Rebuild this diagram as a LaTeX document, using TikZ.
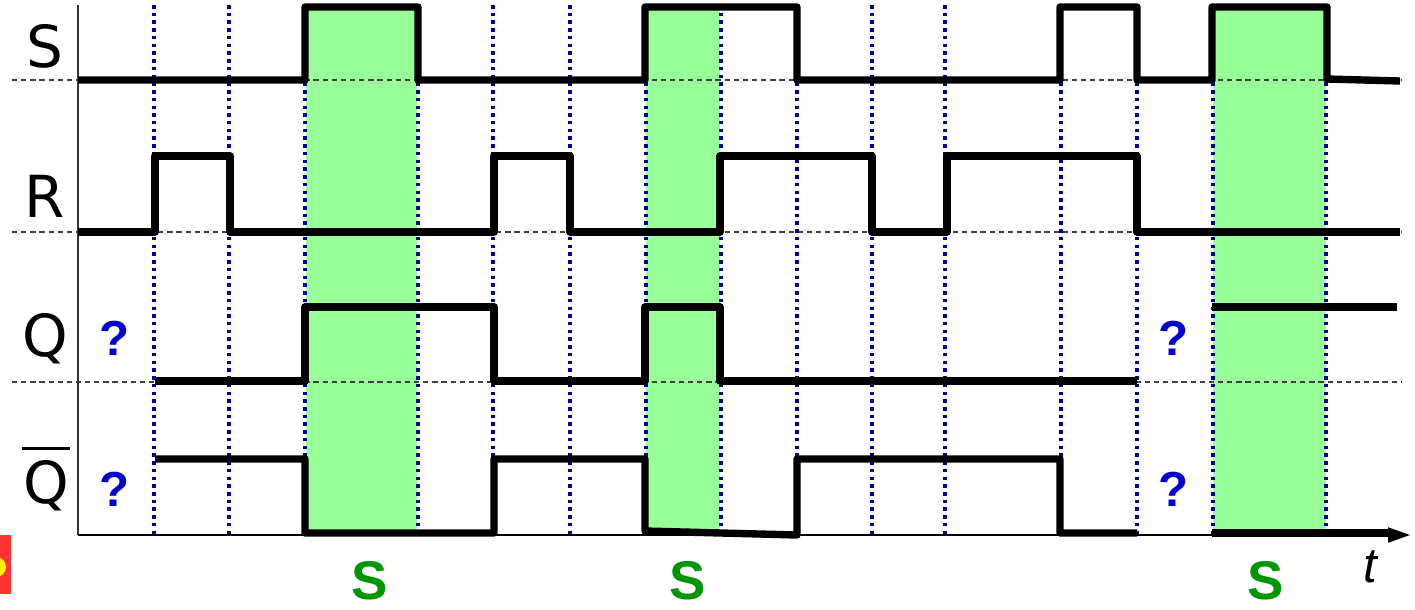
\documentclass[tikz,border=0pt]{standalone}
\usepackage{fontspec}
\setmainfont{DejaVu Sans}
\newfontfamily\boldfont{Liberation Sans}
\usetikzlibrary{arrows.meta}

\definecolor{zonegreen}{RGB}{153,255,153}
\definecolor{tickblue}{RGB}{0,0,150}
\definecolor{qblue}{RGB}{0,0,204}
\definecolor{sgreen}{RGB}{0,150,0}

\begin{document}
\begin{tikzpicture}[
    x=0.02cm, y=-0.02cm,
    sig/.style={line width=4.2pt, line join=round, line cap=butt},
    tick/.style={draw=tickblue, line width=2.3pt, dash pattern=on 2pt off 2.4pt},
    base/.style={draw=black!75, line width=0.6pt, dash pattern=on 3pt off 2.2pt},
    zone/.style={fill=zonegreen, draw=none},
    lbl/.style={font=\fontsize{33}{36}\selectfont, inner sep=0pt},
    unk/.style={font=\boldfont\bfseries\fontsize{28}{30}\selectfont, text=qblue, inner sep=0pt},
    tag/.style={font=\boldfont\bfseries\fontsize{31}{33}\selectfont, text=sgreen, inner sep=0pt}
]
    \useasboundingbox (0,0) rectangle (1415,609);

    % set phases
    \fill[zone] (306,7) rectangle (417,533);
    \fill[zone] (646,7) rectangle (720,533);
    \fill[zone] (1213,7) rectangle (1326,533);

    % baselines
    \draw[base] (12,80) -- (1402,80);
    \draw[base] (12,232) -- (1402,232);
    \draw[base] (12,382) -- (1402,382);

    % clock ticks
    \foreach \tx in {154,229,305,418,493,570,646,721,797,872,945,1061,1137,1213,1326}
        \draw[tick] (\tx,5) -- (\tx,535);

    % axes
    \draw[black!80, line width=1pt] (78,5) -- (78,535);
    \draw[line width=1.2pt, -{Triangle[length=0.44cm, width=0.3cm]}] (78,535) -- (1410,535);

    % S
    \draw[sig] (78,80) -- (305,80) -- (305,7) -- (418,7) -- (418,80) -- (645,80)
        -- (645,7) -- (797,7) -- (797,80) -- (1060,80) -- (1060,7) -- (1137,7)
        -- (1137,80) -- (1212,80) -- (1212,7) -- (1327,7) -- (1327,79) -- (1400,81);
    % R
    \draw[sig] (78,232) -- (155,232) -- (155,156) -- (230,156) -- (230,232) -- (494,232)
        -- (494,156) -- (570,156) -- (570,232) -- (720,232) -- (720,156) -- (872,156)
        -- (872,232) -- (947,232) -- (947,156) -- (1137,156) -- (1137,232) -- (1400,232);
    % Q
    \draw[sig] (155,381) -- (305,381) -- (305,307) -- (494,307) -- (494,381) -- (645,381)
        -- (645,307) -- (720,307) -- (720,381) -- (1137,381);
    \draw[sig] (1212,307) -- (1397,307);
    % not Q
    \draw[sig] (155,459) -- (305,459) -- (305,533) -- (494,533) -- (494,459) -- (645,459)
        -- (645,531) -- (797,535) -- (797,459) -- (1060,459) -- (1060,533) -- (1137,533);
    \draw[sig] (1212,533) -- (1392,533);

    % signal names
    \node[lbl] (lS) at (45,46) {S};
    \node[lbl] (lR) at (45,196) {R};
    \node[lbl] (lQ) at (45,339) {Q};
    \node[lbl] (lQb) at (46,479) {\vbox{\hrule width 27pt height 2.2pt\kern 6pt\hbox to 27pt{\hss Q\hss}}};

    % unknown states
    \node[unk] (u1) at (115,338) {?};
    \node[unk] (u2) at (115,489) {?};
    \node[unk] (u3) at (1174,338) {?};
    \node[unk] (u4) at (1174,489) {?};

    % set markers
    \node[tag] (s1) at (370,581) {S};
    \node[tag] (s2) at (688,581) {S};
    \node[tag] (s3) at (1266,581) {S};
    \node[font=\boldfont\itshape\fontsize{28}{30}\selectfont, inner sep=0pt] (tl) at (1370,567) {t};

    % clipped badge at left edge
    \fill[red!80] (0,535) rectangle (11,594);
    \begin{scope}
        \clip (0,535) rectangle (11,594);
        \fill[yellow] (-4,567) circle (10);
    \end{scope}
\end{tikzpicture}
\end{document}
